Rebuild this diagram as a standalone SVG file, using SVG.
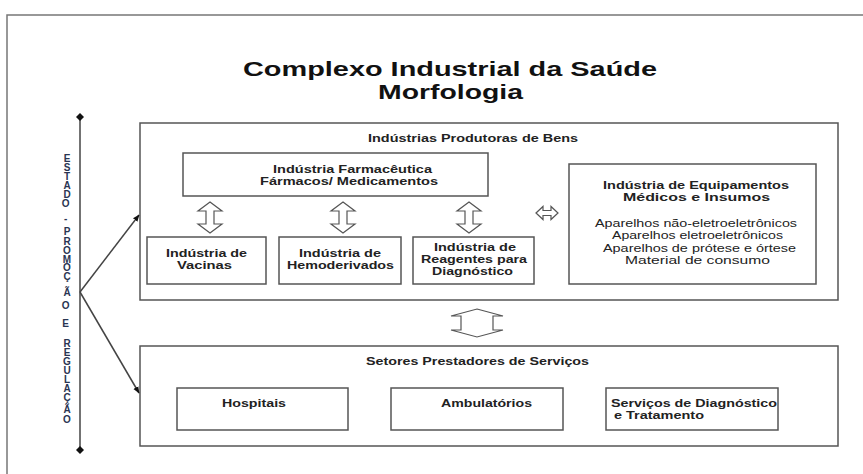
<svg xmlns="http://www.w3.org/2000/svg" width="863" height="474" viewBox="0 0 863 474">
<style>
  .box{fill:#fff;stroke:#555;stroke-width:1.5}
  .frame{fill:#fff;stroke:#777;stroke-width:1.5}
  .t{font-family:"Liberation Sans",Arial,sans-serif;font-weight:bold;font-size:10.5px;fill:#222}
  .r{font-family:"Liberation Sans",Arial,sans-serif;font-size:10.5px;fill:#222}
  .title{font-family:"Liberation Sans",Arial,sans-serif;font-weight:bold;font-size:21px;fill:#111}
  .v{font-family:"Liberation Sans",Arial,sans-serif;font-weight:bold;font-size:10px;fill:#2a3552;text-anchor:middle}
  .harrow{fill:#fff;stroke:#555;stroke-width:1.2;stroke-linejoin:miter}
  .conn{stroke:#444;stroke-width:1.5;fill:none}
</style>
<defs>
  <marker id="ah" viewBox="0 0 10 10" refX="9" refY="5" markerWidth="7" markerHeight="7" orient="auto" markerUnits="userSpaceOnUse">
    <path d="M0,1 L10,5 L0,9 z" fill="#111"/>
  </marker>
  <marker id="dm" viewBox="0 0 10 10" refX="5" refY="5" markerWidth="8" markerHeight="8" markerUnits="userSpaceOnUse">
    <path d="M5,0 L10,5 L5,10 L0,5 z" fill="#111"/>
  </marker>
  <path id="vdbl" d="M0,-15.5 L12,-6.5 L4,-6.5 L4,6.5 L12,6.5 L0,15.5 L-12,6.5 L-4,6.5 L-4,-6.5 L-12,-6.5 Z"/>
</defs>

<rect x="0" y="0" width="863" height="474" fill="#fff"/>
<rect class="frame" x="7" y="15" width="900" height="500"/>

<g id="title">
  <text class="title" x="243" y="76" textLength="414" lengthAdjust="spacingAndGlyphs">Complexo Industrial da Saúde</text>
  <text class="title" x="378" y="99" textLength="145" lengthAdjust="spacingAndGlyphs">Morfologia</text>
</g>

<g id="estado">
  <line class="conn" x1="80" y1="117" x2="80" y2="450" marker-start="url(#dm)" marker-end="url(#dm)"/>
  <text class="v">
    <tspan x="67" y="162">E</tspan><tspan x="67" y="171">S</tspan><tspan x="67" y="180">T</tspan><tspan x="67" y="189">A</tspan><tspan x="67" y="198">D</tspan><tspan x="67" y="207">O</tspan>
    <tspan x="67" y="222">-</tspan>
    <tspan x="67" y="235">P</tspan><tspan x="67" y="245">R</tspan><tspan x="67" y="254">O</tspan><tspan x="67" y="263">M</tspan><tspan x="67" y="271">O</tspan><tspan x="67" y="280">Ç</tspan><tspan x="67" y="296">Ã</tspan><tspan x="67" y="309">O</tspan>
    <tspan x="67" y="327">E</tspan>
    <tspan x="67" y="347">R</tspan><tspan x="67" y="356">E</tspan><tspan x="67" y="365">G</tspan><tspan x="67" y="374">U</tspan><tspan x="67" y="383">L</tspan><tspan x="67" y="392">A</tspan><tspan x="67" y="401">Ç</tspan><tspan x="67" y="413">Ã</tspan><tspan x="67" y="423">O</tspan>
  </text>
</g>

<g id="bens">
  <rect class="box" x="140" y="123" width="698" height="177"/>
  <text class="t" x="368" y="142" textLength="210" lengthAdjust="spacingAndGlyphs">Indústrias Produtoras de Bens</text>
</g>

<g id="farmaceutica">
  <rect class="box" x="183" y="153" width="305" height="43"/>
  <text class="t" x="273" y="173" textLength="159" lengthAdjust="spacingAndGlyphs">Indústria Farmacêutica</text>
  <text class="t" x="260" y="185" textLength="178" lengthAdjust="spacingAndGlyphs">Fármacos/ Medicamentos</text>
</g>

<g id="vacinas">
  <rect class="box" x="147" y="237" width="119" height="47"/>
  <text class="t" x="166" y="257" textLength="81" lengthAdjust="spacingAndGlyphs">Indústria de</text>
  <text class="t" x="177" y="269" textLength="55" lengthAdjust="spacingAndGlyphs">Vacinas</text>
</g>

<g id="hemoderivados">
  <rect class="box" x="279" y="237" width="122" height="47"/>
  <text class="t" x="299" y="257" textLength="82" lengthAdjust="spacingAndGlyphs">Indústria de</text>
  <text class="t" x="287" y="269" textLength="107" lengthAdjust="spacingAndGlyphs">Hemoderivados</text>
</g>

<g id="reagentes">
  <rect class="box" x="413" y="237" width="121" height="47"/>
  <text class="t" x="434" y="251" textLength="82" lengthAdjust="spacingAndGlyphs">Indústria de</text>
  <text class="t" x="421" y="263" textLength="106" lengthAdjust="spacingAndGlyphs">Reagentes para</text>
  <text class="t" x="432" y="275" textLength="81" lengthAdjust="spacingAndGlyphs">Diagnóstico</text>
</g>

<g id="equipamentos">
  <rect class="box" x="569" y="164" width="247" height="120"/>
  <text class="t" x="603" y="189" textLength="186" lengthAdjust="spacingAndGlyphs">Indústria de Equipamentos</text>
  <text class="t" x="623" y="201" textLength="147" lengthAdjust="spacingAndGlyphs">Médicos e Insumos</text>
  <text class="r" x="595" y="227" textLength="202" lengthAdjust="spacingAndGlyphs">Aparelhos não-eletroeletrônicos</text>
  <text class="r" x="612" y="239" textLength="171" lengthAdjust="spacingAndGlyphs">Aparelhos  eletroeletrônicos</text>
  <text class="r" x="603" y="252" textLength="193" lengthAdjust="spacingAndGlyphs">Aparelhos de prótese e órtese</text>
  <text class="r" x="625" y="264" textLength="145" lengthAdjust="spacingAndGlyphs">Material de consumo</text>
</g>

<g id="servicos">
  <rect class="box" x="140" y="346" width="698" height="100"/>
  <text class="t" x="366" y="365" textLength="223" lengthAdjust="spacingAndGlyphs">Setores Prestadores de Serviços</text>
</g>

<g id="hospitais">
  <rect class="box" x="177" y="388" width="171" height="42"/>
  <text class="t" x="222" y="407" textLength="64" lengthAdjust="spacingAndGlyphs">Hospitais</text>
</g>

<g id="ambulatorios">
  <rect class="box" x="391" y="388" width="172" height="42"/>
  <text class="t" x="441" y="407" textLength="91" lengthAdjust="spacingAndGlyphs">Ambulatórios</text>
</g>

<g id="diagnostico">
  <rect class="box" x="606" y="388" width="172" height="42"/>
  <text class="t" x="611" y="407" textLength="166" lengthAdjust="spacingAndGlyphs">Serviços de Diagnóstico</text>
  <text class="t" x="614" y="419" textLength="90" lengthAdjust="spacingAndGlyphs">e Tratamento</text>
</g>

<g id="connectors">
  <line class="conn" x1="80" y1="292" x2="139" y2="215" marker-end="url(#ah)"/>
  <line class="conn" x1="80" y1="292" x2="139" y2="393" marker-end="url(#ah)"/>
  <use href="#vdbl" class="harrow" x="210" y="217.5"/>
  <use href="#vdbl" class="harrow" x="343" y="217.5"/>
  <use href="#vdbl" class="harrow" x="469" y="217.5"/>
  <path class="harrow" d="M536,213 L543,206.5 L543,210.5 L551,210.5 L551,206.5 L558,213 L551,219.5 L551,215.5 L543,215.5 L543,219.5 Z"/>
  <path class="harrow" d="M477,309 L503,316 L493,316 L493,330 L503,330 L477,337 L451,330 L461,330 L461,316 L451,316 Z"/>
</g>
</svg>
